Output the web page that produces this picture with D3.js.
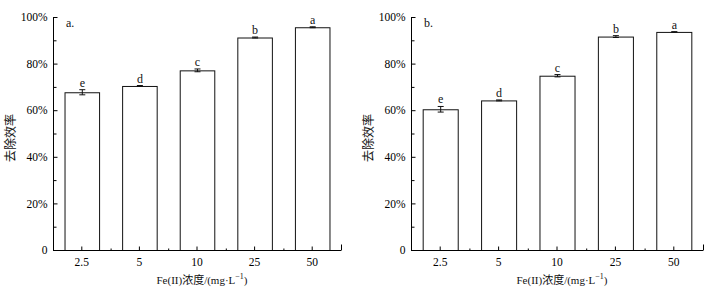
<!DOCTYPE html>
<html>
<head>
<meta charset="utf-8">
<script src="https://cdn.jsdelivr.net/npm/d3@7"></script>
<style>
  body { margin: 0; background: #fff; }
  svg { display: block; font-family: "Liberation Serif", "Noto Sans CJK SC", serif; }
</style>
</head>
<body>
<svg id="chart"></svg>
<script>
const categories = ["2.5", "5", "10", "25", "50"];
const yTicks = [0, 0.2, 0.4, 0.6, 0.8, 1.0];
const yMinor = [0.1, 0.3, 0.5, 0.7, 0.9];

// panel a
const valuesA = [0.677, 0.704, 0.771, 0.912, 0.956];
const errA = [0.011, 0.002, 0.006, 0.002, 0.002];
const lettersA = ["e", "d", "c", "b", "a"];

// panel b
const valuesB = [0.604, 0.642, 0.748, 0.916, 0.936];
const errB = [0.012, 0.002, 0.005, 0.004, 0.001];
const lettersB = ["e", "d", "c", "b", "a"];

const width = 719, height = 298;
const svg = d3.select("#chart").attr("width", width).attr("height", height);

function drawPanel(left, right, tag, values, errs, letters) {
    const x = d3.scaleBand(categories, [left, right]).paddingInner(0.4).paddingOuter(0.2);
    const y = d3.scaleLinear([0, 1], [250, 17]);
    const g = svg.append("g");

    // bars
    g.append("g")
        .selectAll("rect")
        .data(values)
        .join("rect")
        .attr("x", (d, i) => x(categories[i]) + 0.5)
        .attr("y", d => y(d) + 0.5)
        .attr("width", x.bandwidth())
        .attr("height", d => y(0) - y(d))
        .attr("fill", "#fff")
        .attr("stroke", "#111")
        .attr("stroke-width", 1);

    // error bars
    const eb = g.append("g").attr("stroke", "#111").attr("stroke-width", 1);
    values.forEach((v, i) => {
        const cx = x(categories[i]) + x.bandwidth() / 2 + 0.5;
        const e = errs[i];
        eb.append("line").attr("x1", cx).attr("x2", cx).attr("y1", y(v + e)).attr("y2", y(v - e));
        eb.append("line").attr("x1", cx - 3).attr("x2", cx + 3).attr("y1", y(v + e)).attr("y2", y(v + e));
        eb.append("line").attr("x1", cx - 3).attr("x2", cx + 3).attr("y1", y(v - e)).attr("y2", y(v - e));
    });

    // significance letters
    g.append("g")
        .selectAll("text")
        .data(letters)
        .join("text")
        .attr("x", (d, i) => x(categories[i]) + x.bandwidth() / 2 + 0.5)
        .attr("y", (d, i) => y(values[i] + errs[i]) - 3)
        .attr("text-anchor", "middle")
        .attr("font-size", 12)
        .attr("fill", "#111")
        .text(d => d);

    // y axis
    g.append("g")
        .attr("transform", `translate(${left + 0.5},0)`)
        .call(d3.axisLeft(y).tickValues(yTicks).tickSize(-4).tickPadding(6)
            .tickFormat(d => d === 0 ? "0" : Math.round(d * 100) + "%"))
        .call(a => a.select(".domain").attr("d", `M0,${y(1)}V${y(0)}`))
        .call(a => a.selectAll("text").attr("font-size", 11.5).attr("font-family", "Liberation Serif"));
    g.append("g")
        .attr("transform", `translate(${left + 0.5},0)`)
        .call(d3.axisLeft(y).tickValues(yMinor).tickSize(-3).tickFormat(""))
        .call(a => a.select(".domain").remove());

    // x axis
    g.append("g")
        .attr("transform", `translate(0,${y(0) + 0.5})`)
        .call(d3.axisBottom(x).tickSize(-4).tickPadding(7))
        .call(a => a.select(".domain").attr("d", `M${left},0H${right}`))
        .call(a => a.selectAll("text").attr("font-size", 11.5).attr("font-family", "Liberation Serif"));
    const xb = d3.scaleLinear([0, categories.length], [left, right]);
    g.append("g")
        .attr("transform", `translate(0,${y(0) + 0.5})`)
        .call(d3.axisBottom(xb).tickValues(d3.range(1, categories.length)).tickSize(-2).tickFormat(""))
        .call(a => a.select(".domain").remove());
    g.append("g")
        .attr("transform", `translate(0,${y(0) + 0.5})`)
        .call(d3.axisBottom(xb).tickValues([categories.length]).tickSize(-6).tickFormat(""))
        .call(a => a.select(".domain").remove());

    // axis titles
    const xt = g.append("text")
        .attr("x", (left + right) / 2 + 5)
        .attr("y", 284)
        .attr("text-anchor", "middle")
        .attr("font-size", 11)
        .attr("fill", "#111");
    xt.append("tspan").text("Fe(II)浓度/(mg·L");
    xt.append("tspan").attr("dy", -5).attr("font-size", 8).text("−1");
    xt.append("tspan").attr("dy", 5).text(")");

    g.append("text")
        .attr("transform", `translate(${left - 38},138) rotate(-90)`)
        .attr("text-anchor", "middle")
        .attr("font-size", 12)
        .attr("font-family", "Noto Sans CJK SC")
        .attr("fill", "#111")
        .text("去除效率");

    // panel tag
    g.append("text")
        .attr("x", left + 13)
        .attr("y", 27)
        .attr("font-size", 12)
        .attr("fill", "#111")
        .text(tag);
}

drawPanel(53, 341, "a.", valuesA, errA, lettersA);
drawPanel(411, 703, "b.", valuesB, errB, lettersB);
</script>
</body>
</html>
